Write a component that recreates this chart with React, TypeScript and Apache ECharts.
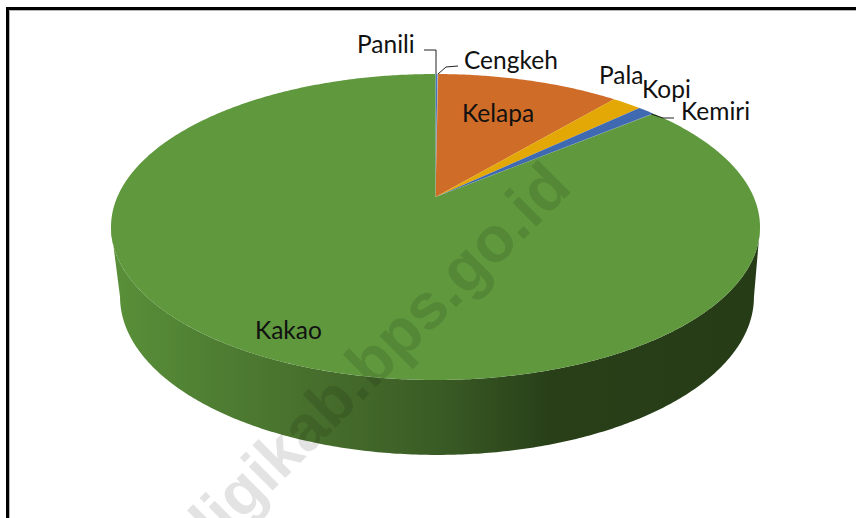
import React, { useEffect, useRef } from "react";
import * as echarts from "echarts";

const categories = ["Panili", "Cengkeh", "Kelapa", "Pala", "Kopi", "Kemiri", "Kakao"];
const values = [0.12, 0.04, 11.0, 1.8, 1.0, 0.04, 86.0];
const sliceColors = ["#4472c4", "#a5a5a5", "#cf6c28", "#e3a805", "#3f69b0", "#3f69b0", "#5f983d"];
const wallStops: [number, string][] = [
  [0, "#5a9039"],
  [0.15, "#4f7f33"],
  [0.3, "#48702d"],
  [0.5, "#3a5c25"],
  [0.68, "#283f18"],
  [1, "#263c17"],
];

const TOP = { cx: 435.5, ay: 197, B: 318.2, A: 147.1 };
const BOTTOM = { cx: 437, ay: 266, B: 310.8, A: 151.9 };
const K = 0.196;

function project(theta: number, p: typeof TOP): number[] {
  const u = Math.sin(theta);
  const v = Math.cos(theta);
  const w = 1 + K * v;
  return [p.cx + (p.B * u) / w, p.ay - (p.A * v) / w];
}

function arc(a0: number, a1: number, p: typeof TOP): number[][] {
  const n = Math.max(2, Math.ceil(Math.abs(a1 - a0) / 0.01));
  const pts: number[][] = [];
  for (let i = 0; i <= n; i++) pts.push(project(a0 + ((a1 - a0) * i) / n, p));
  return pts;
}

const total = values.reduce((a, b) => a + b, 0);
const starts: number[] = [];
values.reduce((acc, v, i) => {
  starts[i] = (acc / total) * Math.PI * 2;
  return acc + v;
}, 0);

// angles between which the rim faces the viewer
const FRONT0 = Math.acos(-K);
const FRONT1 = Math.PI * 2 - FRONT0;

export default function App() {
  const ref = useRef<HTMLDivElement>(null);
  useEffect(() => {
    document.body.style.margin = "0";
    const chart = echarts.init(ref.current!, null, { renderer: "svg" });
    const text = (name: string, x: number, y: number) => ({
      type: "text",
      x,
      y,
      z: 20,
      style: { text: name, fill: "#111", font: "24.5px Lato", textAlign: "left", textVerticalAlign: "middle" },
    });
    const leader = (points: number[][]) => ({
      type: "polyline",
      z: 15,
      shape: { points },
      style: { stroke: "#222", lineWidth: 1, fill: "none" },
    });
    chart.setOption({
      animation: false,
      backgroundColor: "#fff",
      series: [
        {
          type: "custom",
          coordinateSystem: "none",
          z: 2,
          data: values.map((v, i) => [i, v]),
          renderItem: (params: any) => {
            const i = params.dataIndex;
            const a0 = starts[i];
            const a1 = a0 + (values[i] / total) * Math.PI * 2;
            const children: any[] = [];
            const w0 = Math.max(a0, FRONT0);
            const w1 = Math.min(a1, FRONT1);
            if (w1 > w0) {
              const pts = [...arc(w0, w1, TOP), ...arc(w1, w0, BOTTOM)];
              children.push({
                type: "polygon",
                shape: { points: pts },
                style: { fill: new echarts.graphic.LinearGradient(0, 0, 1, 0, wallStops.map(([offset, color]) => ({ offset, color }))) },
              });
            }
            children.push({
              type: "polygon",
              shape: { points: [[TOP.cx, TOP.ay], ...arc(a0, a1, TOP)] },
              style: { fill: sliceColors[i] },
            });
            return { type: "group", children };
          },
        },
      ],
      graphic: [
        { type: "rect", z: 30, shape: { x: 6, y: 7, width: 850, height: 3 }, style: { fill: "#000" } },
        { type: "rect", z: 30, shape: { x: 6, y: 7, width: 3, height: 511 }, style: { fill: "#000" } },
        { type: "rect", z: 30, shape: { x: 9, y: 10, width: 847, height: 1 }, style: { fill: "#b5b5b5" } },
        { type: "rect", z: 30, shape: { x: 9, y: 10, width: 1, height: 508 }, style: { fill: "#b5b5b5" } },
        {
          type: "text",
          z: 25,
          x: 186,
          y: 546,
          rotation: Math.PI / 4,
          style: { text: "digikab.bps.go.id", fill: "rgba(0,0,0,0.11)", font: "bold 64px 'Liberation Sans'", textAlign: "left", textVerticalAlign: "middle" },
        },
        leader([[424, 50], [436, 50], [436, 74]]),
        leader([[458, 66], [446, 67], [438, 74]]),
        leader([[674, 118], [663, 118], [651, 114]]),
        text(categories[0], 357, 43),
        text(categories[1], 464, 59),
        text(categories[2], 462, 112),
        text(categories[3], 599, 74),
        text(categories[4], 642, 88),
        text(categories[5], 681, 110),
        text(categories[6], 255, 329),
      ],
    });
    return () => chart.dispose();
  }, []);
  return <div ref={ref} style={{ width: 856, height: 518 }} />;
}
